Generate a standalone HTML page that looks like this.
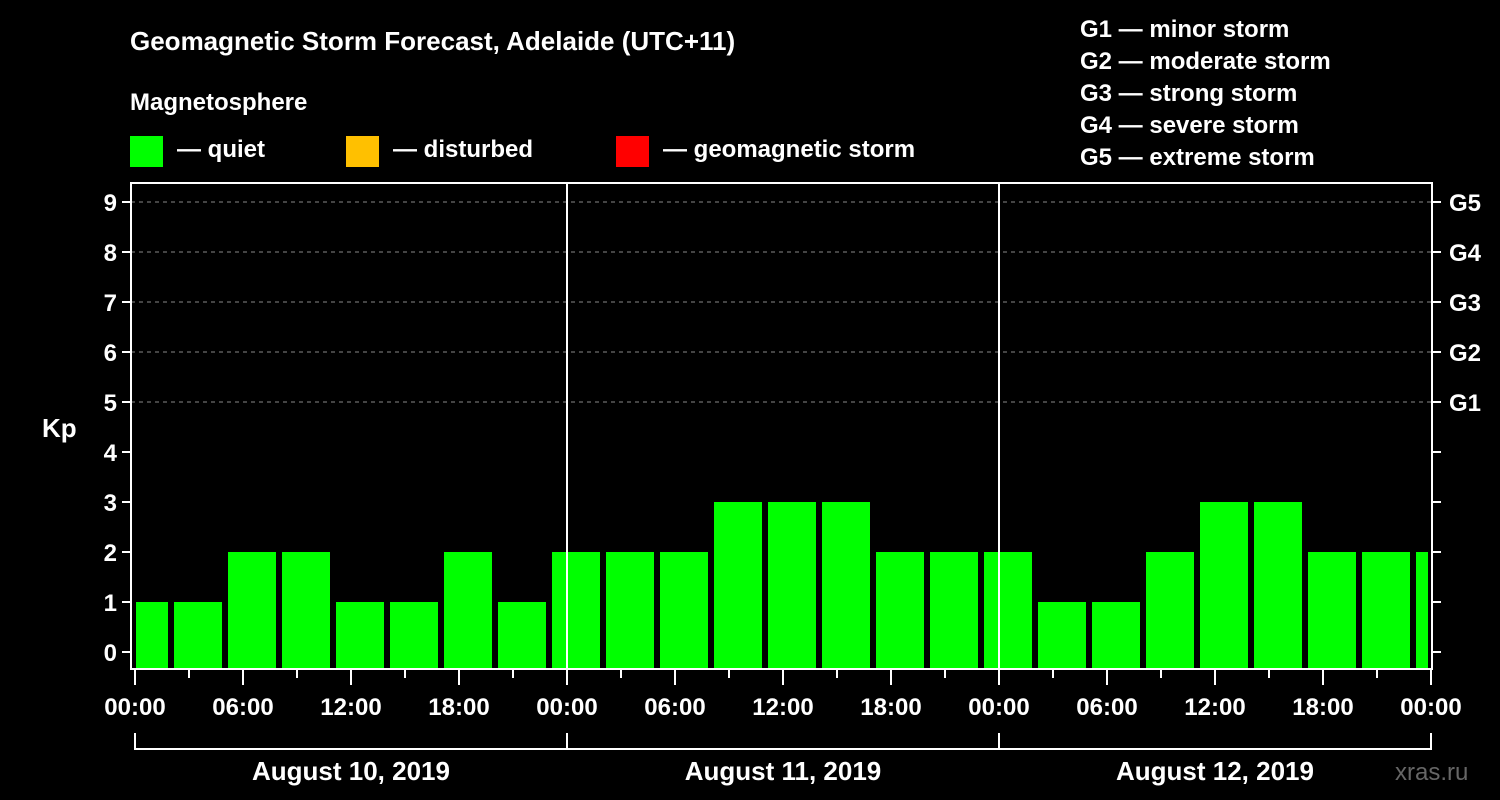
<!DOCTYPE html>
<html><head><meta charset="utf-8"><style>
html,body{margin:0;padding:0;background:#000;}
svg{display:block;font-family:"Liberation Sans",Arial,sans-serif;font-weight:bold;}
</style></head><body>
<svg id="chart" width="1500" height="800" viewBox="0 0 1500 800">
<text x="130" y="50" fill="#fff" font-size="26">Geomagnetic Storm Forecast, Adelaide (UTC+11)</text>
<text x="130" y="110" fill="#fff" font-size="24">Magnetosphere</text>
<g><rect x="130" y="136" width="33" height="31" fill="#00ff00"/><text x="177" y="157" fill="#fff" font-size="24">— quiet</text></g>
<g><rect x="346" y="136" width="33" height="31" fill="#ffc000"/><text x="393" y="157" fill="#fff" font-size="24">— disturbed</text></g>
<g><rect x="616" y="136" width="33" height="31" fill="#ff0000"/><text x="663" y="157" fill="#fff" font-size="24">— geomagnetic storm</text></g>
<g fill="#fff" font-size="24">
<text x="1080" y="37">G1 — minor storm</text>
<text x="1080" y="69">G2 — moderate storm</text>
<text x="1080" y="101">G3 — strong storm</text>
<text x="1080" y="133">G4 — severe storm</text>
<text x="1080" y="165">G5 — extreme storm</text>
</g>
<g id="grid"></g>
<g id="bars"></g>
<g id="axes"></g>
<text x="1395" y="780" fill="#666" font-size="24" font-weight="normal">xras.ru</text>
</svg>
<script>
const kpValues = [1,1,2,2,1,1,2,1, 2,2,2,3,3,3,2,2, 2,1,1,2,3,3,2,2, 2];
const dayLabels = ["August 10, 2019","August 11, 2019","August 12, 2019"];
const hourLabels = ["00:00","06:00","12:00","18:00"];
const yTicks = [0,1,2,3,4,5,6,7,8,9];
const gLabels = ["G1","G2","G3","G4","G5"];

const NS="http://www.w3.org/2000/svg";
const X0=135, DAYW=432, PL=131, PR=1432, PT=183, PB=669;
const y = v => 652 - v*50;
const xh = h => X0 + h*DAYW/24;
function mk(tag, attrs, parent, txt){const e=document.createElementNS(NS,tag);for(const k in attrs)e.setAttribute(k,attrs[k]);if(txt!==undefined)e.textContent=txt;parent.appendChild(e);return e;}
const grid=document.getElementById('grid'), bars=document.getElementById('bars'), axes=document.getElementById('axes');

[5,6,7,8,9].forEach(v=>{
  const l=mk('line',{x1:PL,x2:PR,y1:y(v),y2:y(v),stroke:'#888','stroke-width':1,'stroke-dasharray':'4,4'},grid);
  
  
});

kpValues.forEach((v,i)=>{
  const c = xh(i*3+0.5);
  let x1=Math.max(c-24,PL+5), x2=Math.min(c+24,PR-4);
  const col = v>=5?'#ff0000':(v>=4?'#ffc000':'#00ff00');
  const r=mk('rect',{x:x1,y:y(v),width:x2-x1,height:668-y(v),fill:col},bars);
  
  
});

// frame
const fr=mk('rect',{x:PL,y:PT,width:PR-PL,height:PB-PT,fill:'none',stroke:'#fff','stroke-width':2},axes);


[1,2].forEach(d=>{
  const l=mk('line',{x1:X0+d*DAYW,x2:X0+d*DAYW,y1:PT,y2:PB,stroke:'#fff','stroke-width':2},axes);
  
  
});
yTicks.forEach(v=>{
  mk('line',{x1:122,x2:PL,y1:y(v),y2:y(v),stroke:'#fff','stroke-width':2},axes);
  mk('line',{x1:PR,x2:PR+9,y1:y(v),y2:y(v),stroke:'#fff','stroke-width':2},axes);
  const t=mk('text',{x:117,y:y(v)+9,fill:'#fff','font-size':24,'text-anchor':'end'},axes,String(v));
  
  
});
gLabels.forEach((g,i)=>{
  const t=mk('text',{x:1449,y:y(5+i)+9,fill:'#fff','font-size':24},axes,g);
  
  
});
const kp=mk('text',{x:42,y:437,fill:'#fff','font-size':26},axes,'Kp');


for(let h=0;h<=72;h+=3){
  const major=h%6===0;
  mk('line',{x1:xh(h),x2:xh(h),y1:PB,y2:major?685:678,stroke:'#fff','stroke-width':2},axes);
  if(major){
    const t=mk('text',{x:xh(h),y:715,fill:'#fff','font-size':24,'text-anchor':'middle'},axes,hourLabels[(h/6)%4]);
    
    
  }
}
mk('line',{x1:X0,x2:X0+3*DAYW,y1:749,y2:749,stroke:'#fff','stroke-width':2},axes);
for(let d=0;d<=3;d++) mk('line',{x1:X0+d*DAYW,x2:X0+d*DAYW,y1:733,y2:750,stroke:'#fff','stroke-width':2},axes);
dayLabels.forEach((s,d)=>{
  const t=mk('text',{x:X0+d*DAYW+DAYW/2,y:780,fill:'#fff','font-size':26,'text-anchor':'middle'},axes,s);
  
  
});
</script>
</body></html>
